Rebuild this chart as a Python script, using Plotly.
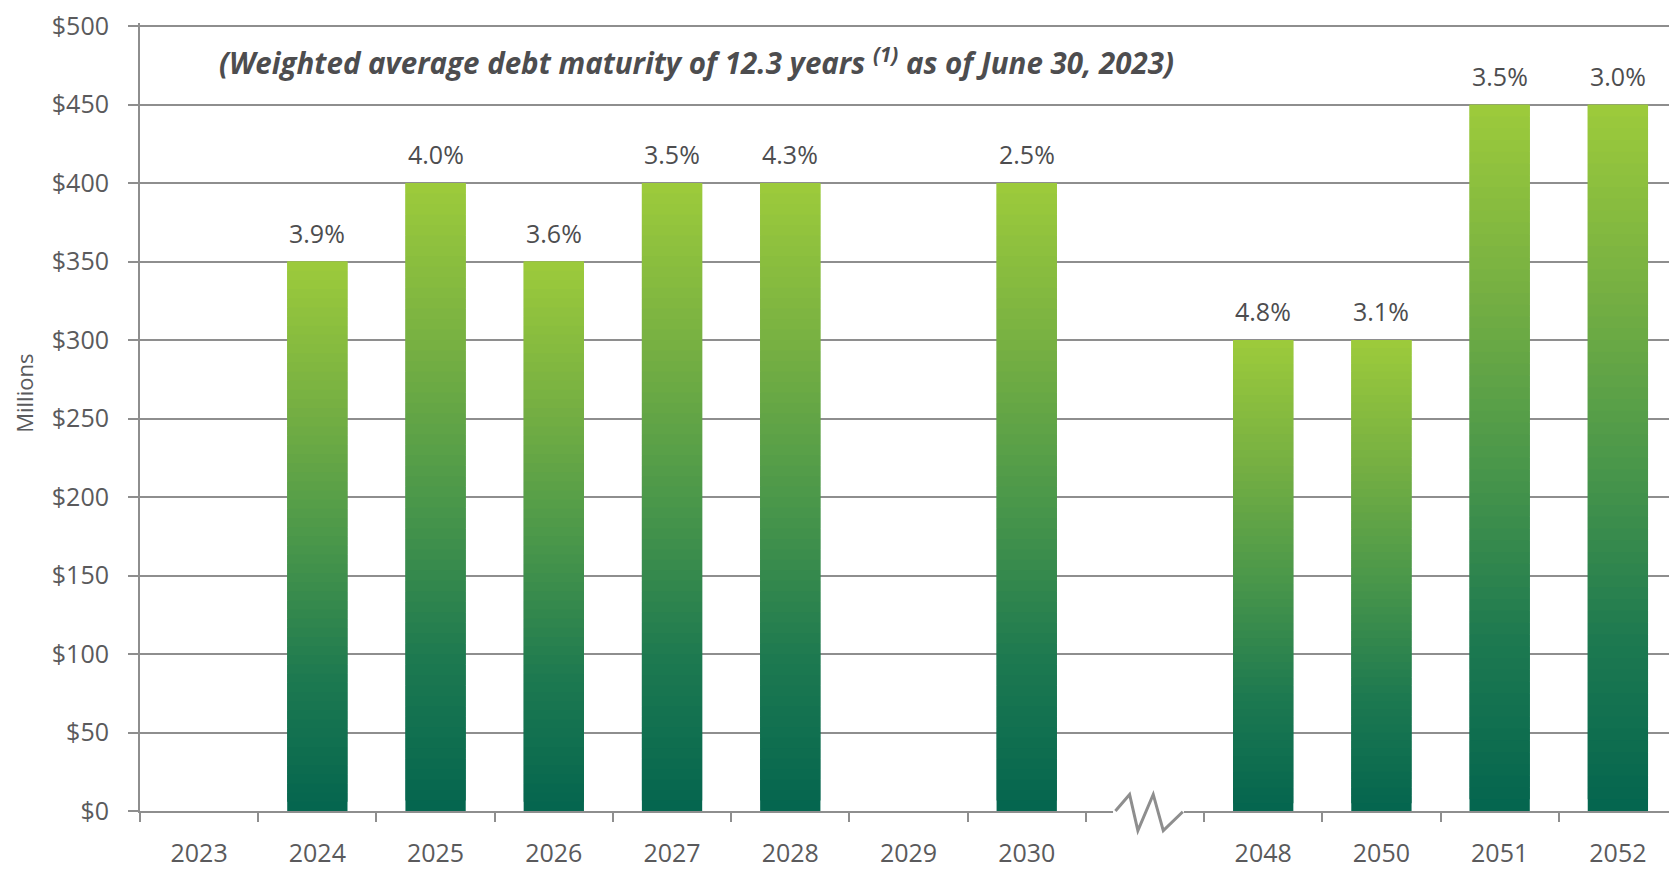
import plotly.graph_objects as go

# ---- data ----
categories = ["2023", "2024", "2025", "2026", "2027", "2028", "2029", "2030",
              " ", "2048", "2050", "2051", "2052"]
amounts = [0, 350, 400, 350, 400, 400, 0, 400, 0, 300, 300, 450, 450]
rates = ["", "3.9%", "4.0%", "3.6%", "3.5%", "4.3%", "", "2.5%", "",
         "4.8%", "3.1%", "3.5%", "3.0%"]
y_tickvals = [0, 50, 100, 150, 200, 250, 300, 350, 400, 450, 500]
y_ticktext = ["$" + str(v) for v in y_tickvals]
title_text = "(Weighted average debt maturity of 12.3 years <sup>(1)</sup> as of June 30, 2023)"
gap_category = " "

# ---- style ----
grad_stops = [(0.0, (4, 101, 79)), (0.25, (30, 122, 80)), (0.5, (76, 152, 74)),
              (0.75, (120, 177, 66)), (1.0, (157, 203, 59))]
GRID = "#8E8E8E"
TICKFONT = dict(family="Open Sans", size=25, color="#5A5A5C")
N_SEG = 60


def grad_color(t):
    for (t0, c0), (t1, c1) in zip(grad_stops[:-1], grad_stops[1:]):
        if t <= t1:
            f = (t - t0) / (t1 - t0) if t1 > t0 else 0
            c = [round(a + (b - a) * f) for a, b in zip(c0, c1)]
            return "rgb(%d,%d,%d)" % tuple(c)
    return "rgb(%d,%d,%d)" % grad_stops[-1][1]


# gradient bars: each bar split into slices; each slice overlaps the next
# one so no seams show, the last slice ends exactly at the bar's value
xs, ys, bases, cols = [], [], [], []
for k in range(N_SEG):
    t = k / N_SEG
    for cat, v in zip(categories, amounts):
        if not v:
            continue
        h = v / N_SEG
        xs.append(cat)
        bases.append(v * t)
        ys.append(h * (2 if k < N_SEG - 1 else 1))
        cols.append(grad_color(t + 0.5 / N_SEG))

fig = go.Figure()
fig.add_trace(go.Bar(x=xs, y=ys, base=bases, width=0.51,
                     marker=dict(color=cols, line=dict(width=0)),
                     hoverinfo="skip", showlegend=False))

# keep every category on the axis
fig.add_trace(go.Scatter(x=categories, y=[None] * len(categories), mode="markers",
                         showlegend=False, hoverinfo="skip"))

for i, (v, r) in enumerate(zip(amounts, rates)):
    if r:
        fig.add_annotation(x=i, y=v, xref="x", yref="y", text=r, showarrow=False,
                           yanchor="bottom", xanchor="center", yshift=10,
                           font=dict(family="Open Sans", size=25, color="#4D4D4F"))

fig.add_annotation(xref="paper", yref="paper", x=0.050, y=0.951, xanchor="left",
                   yanchor="middle", showarrow=False, text="<b><i>" + title_text + "</i></b>",
                   font=dict(family="Open Sans", size=29.5, color="#4D4D4F"))

fig.add_annotation(xref="paper", yref="paper", x=-0.0752, y=0.53, textangle=-90,
                   xanchor="center", yanchor="middle",
                   showarrow=False, text="Millions",
                   font=dict(family="Open Sans", size=22, color="#5A5A5C"))

# axis break marker
gi = categories.index(gap_category)
fig.add_shape(type="rect", xref="x", yref="paper", x0=gi - 0.27, x1=gi + 0.33,
              y0=-0.006, y1=0.006, fillcolor="white", line=dict(width=0), layer="above")
zig = [(-0.25, 0.0), (-0.13, 0.021), (-0.06, -0.025), (0.07, 0.021), (0.155, -0.025), (0.32, -0.001)]
path = "M " + " L ".join("%.4f,%.4f" % (gi + dx, dy) for dx, dy in zig)
fig.add_shape(type="path", xref="x", yref="paper", path=path,
              line=dict(color="#8E8E8E", width=3), layer="above")

fig.update_layout(
    width=1669, height=861,
    margin=dict(l=132, r=0, t=12, b=52),
    plot_bgcolor="white", paper_bgcolor="white",
    barmode="overlay", showlegend=False,
    xaxis=dict(type="category", categoryorder="array", categoryarray=categories,
               range=[-0.5, len(categories) - 0.5], showgrid=False,
               showline=True, linecolor=GRID, linewidth=2,
               ticks="outside", tickson="boundaries", ticklen=9, tickwidth=2,
               tickcolor=GRID, tickfont=TICKFONT, ticklabelstandoff=19),
    yaxis=dict(range=[0, 502], tickvals=y_tickvals, ticktext=y_ticktext,
               showgrid=True, gridcolor=GRID, gridwidth=2, zeroline=False,
               showline=True, linecolor=GRID, linewidth=2,
               ticks="outside", ticklen=10, tickwidth=2, tickcolor=GRID,
               tickfont=TICKFONT, ticklabelstandoff=14, ticklabeloverflow="allow"),
)

fig.write_html("out.html")
